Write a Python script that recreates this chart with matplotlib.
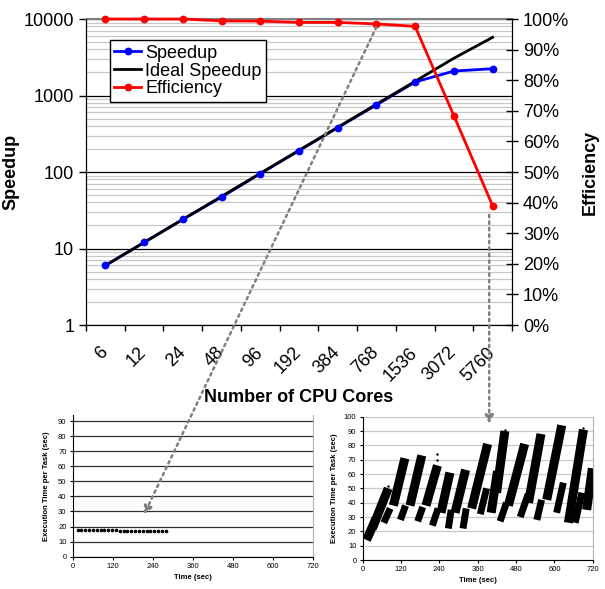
import matplotlib
matplotlib.use("Agg")
import matplotlib.pyplot as plt
import matplotlib.transforms as mtransforms
from matplotlib.lines import Line2D
from matplotlib.patches import ConnectionPatch
from matplotlib.ticker import FixedLocator, NullFormatter

plt.rcParams["font.family"] = ["Liberation Sans", "DejaVu Sans"]

# main chart: speedup / efficiency vs cores
cores = ["6", "12", "24", "48", "96", "192", "384", "768", "1536", "3072", "5760"]
speedup = [6, 12, 24, 47, 95, 190, 380, 755, 1500, 2090, 2240]
ideal = [6, 12, 24, 48, 96, 192, 384, 768, 1536, 3072, 5760]
efficiency = [100, 100, 100, 99.4, 99.3, 98.9, 98.9, 98.4, 97.6, 68.4, 39.0]

# small left chart (few cores): one task per point
small_t = [15, 26, 38, 49, 61, 72, 84, 95, 107, 118, 130, 141,
           153, 164, 176, 187, 199, 210, 222, 233, 245, 256, 268, 280]
small_v = [18.0, 17.9, 17.8, 17.8, 17.6, 17.6, 17.5, 17.5, 17.4, 17.4, 17.4, 17.3,
           17.3, 17.3, 17.3, 17.2, 17.2, 17.2, 17.2, 17.2, 17.1, 17.1, 17.1, 17.1]

# small right chart (5760 cores): dense sawtooth bands, start/end of each band
band_t0 = [12, 30, 96, 148, 198, 245, 289, 341, 402, 419, 456, 519, 576, 644, 701]
band_v0 = [14, 22, 38, 38, 38, 33, 33, 36, 33, 47, 38, 40, 42, 26, 35]
band_t1 = [42, 80, 132, 185, 234, 273, 322, 391, 422, 445, 507, 558, 623, 691, 719]
band_v1 = [29, 50, 71, 73, 66, 61, 63, 81, 62, 90, 81, 88, 94, 91, 64]
low_t0 = [66, 118, 172, 218, 268, 314, 368, 430, 493, 545, 607, 665]
low_v0 = [26, 28, 27, 24, 22, 22, 32, 27, 30, 28, 33, 26]
low_t1 = [86, 134, 188, 236, 277, 324, 388, 450, 518, 560, 628, 686]
low_v1 = [36, 38, 37, 36, 35, 36, 50, 40, 46, 42, 54, 47]
stray_t = [78, 232, 234, 270, 445, 450, 508, 556, 620, 690, 300, 160, 110]
stray_v = [52, 74, 70, 58, 91, 88, 80, 86, 93, 92, 45, 50, 45]

fig = plt.figure(figsize=(6.05, 5.89), dpi=100)
FS = 13

# ---------------- main chart ----------------
ax = fig.add_axes([0.1421, 0.4482, 0.7041, 0.5195])
xs = [i + 0.5 for i in range(len(cores))]
ax.set_yscale("log")
ax.set_ylim(1, 10000)
ax.set_xlim(0, len(cores))
ax.plot(xs, speedup, color="#0000ff", lw=2, zorder=3)
ax.plot(xs, ideal, color="black", lw=2, zorder=4)
ax.plot(xs, speedup, "o", color="#0000ff", ms=4.6, zorder=5)

ax.set_yticks([1, 10, 100, 1000, 10000])
ax.set_yticklabels(["1", "10", "100", "1000", "10000"], fontsize=FS)
ax.yaxis.set_minor_formatter(NullFormatter())
ax.grid(which="major", axis="y", color="black", lw=0.9)
ax.grid(which="minor", axis="y", color="#c8c8c8", lw=0.9)
ax.tick_params(axis="y", which="major", direction="out", length=5, width=1)
ax.tick_params(axis="y", which="minor", length=0)
ax.xaxis.set_major_locator(FixedLocator(range(len(cores) + 1)))
ax.xaxis.set_minor_locator(FixedLocator(xs))
ax.xaxis.set_major_formatter(NullFormatter())
ax.set_xticklabels(cores, minor=True, fontsize=FS, rotation=45,
                   ha="right", va="center", rotation_mode="anchor")
shift = mtransforms.ScaledTranslation(-7 / 72, 0, fig.dpi_scale_trans)
for lab in ax.get_xticklabels(minor=True):
    lab.set_transform(lab.get_transform() + shift)
ax.tick_params(axis="x", which="major", direction="out", length=4, width=1)
ax.tick_params(axis="x", which="minor", length=0, pad=18)
ax.set_xlabel("Number of CPU Cores", fontsize=FS, fontweight="bold")
ax.xaxis.set_label_coords(0.5, -0.208)
ax.set_ylabel("Speedup", fontsize=FS, fontweight="bold")
ax.yaxis.set_label_coords(-0.155, 0.5)
for side in ("left", "bottom", "right"):
    ax.spines[side].set_color("black")
ax.spines["top"].set_color("#808080")
ax.spines["top"].set_linewidth(1.5)

ax2 = ax.twinx()
ax2.set_ylim(0, 100)
ax2.plot(xs, efficiency, "-o", color="#ff0000", lw=2, ms=4.6, clip_on=False, zorder=5)
ax2.set_yticks(range(0, 101, 10))
ax2.set_yticklabels([f"{v}%" for v in range(0, 101, 10)], fontsize=FS)
ax2.tick_params(axis="y", direction="inout", length=9, width=1)
ax2.set_ylabel("Efficiency", fontsize=FS, fontweight="bold", rotation=90, va="center")
ax2.yaxis.set_label_coords(1.183, 0.5)
ax2.spines["top"].set_visible(False)

handles = [
    Line2D([], [], color="#0000ff", lw=2, marker="o", ms=4.6),
    Line2D([], [], color="black", lw=2),
    Line2D([], [], color="#ff0000", lw=2, marker="o", ms=4.6),
]
leg = ax2.legend(handles, ["Speedup", "Ideal Speedup", "Efficiency"],
                 loc="upper left", bbox_to_anchor=(0.056, 0.931), borderaxespad=0,
                 fontsize=FS, frameon=True, fancybox=False, framealpha=1,
                 edgecolor="black", handlelength=1.5, handletextpad=0.2,
                 labelspacing=0.05, borderpad=0.25)
leg.get_frame().set_linewidth(1)

# ---------------- small left chart ----------------
axl = fig.add_axes([0.1202, 0.0548, 0.3967, 0.2406])
axl.set_xlim(0, 720)
axl.set_ylim(0, 94)
axl.plot(small_t, small_v, "o", color="black", ms=2.6, mew=0)
axl.set_xticks(range(0, 721, 120))
axl.set_yticks(range(0, 91, 10))
axl.grid(axis="y", color="#303030", lw=0.9)
axl.tick_params(labelsize=5.5, length=2.5, width=0.8, pad=2)
axl.set_xlabel("Time (sec)", fontsize=5.5, fontweight="bold", labelpad=3)
axl.set_ylabel("Execution Time per Task (sec)", fontsize=5.5, fontweight="bold", labelpad=6)
axl.spines["top"].set_visible(False)
axl.spines["right"].set_color("#b0b0b0")

# ---------------- small right chart ----------------
axr = fig.add_axes([0.5995, 0.0492, 0.3802, 0.2433])
axr.set_xlim(0, 720)
axr.set_ylim(0, 100)
for t0, v0, t1, v1 in zip(band_t0, band_v0, band_t1, band_v1):
    axr.plot([t0, t1], [v0, v1], color="black", lw=6.5, solid_capstyle="butt")
for t0, v0, t1, v1 in zip(low_t0, low_v0, low_t1, low_v1):
    axr.plot([t0, t1], [v0, v1], color="black", lw=5, solid_capstyle="butt")
axr.plot(stray_t, stray_v, ".", color="black", ms=1.5)
axr.set_xticks(range(0, 721, 120))
axr.set_yticks(range(0, 101, 10))
axr.grid(axis="y", color="#c8c8c8", lw=0.9)
axr.set_axisbelow(True)
axr.tick_params(labelsize=5.5, length=2.5, width=0.8, pad=2)
axr.set_xlabel("Time (sec)", fontsize=5.5, fontweight="bold", labelpad=3)
axr.set_ylabel("Execution Time per Task (sec)", fontsize=5.5, fontweight="bold", labelpad=4)
axr.spines["top"].set_visible(False)
axr.spines["right"].set_color("#b0b0b0")

# ---------------- dotted connector arrows ----------------
arrow_kw = dict(arrowstyle="-|>", linestyle=(0, (1, 1.6)), color="#808080",
                lw=1.8, mutation_scale=12, zorder=10)
con1 = ConnectionPatch(xyA=(xs[7], efficiency[7] - 1), coordsA=ax2.transData,
                       xyB=(214, 28), coordsB=axl.transData, **arrow_kw)
fig.add_artist(con1)

tip = axr.transData.transform((396, 95))
top = ax2.transData.transform((0, 36))
to_fig = fig.transFigure.inverted()
con2 = ConnectionPatch(xyA=to_fig.transform((tip[0], top[1])), coordsA=fig.transFigure,
                       xyB=to_fig.transform(tip), coordsB=fig.transFigure, **arrow_kw)
fig.add_artist(con2)

fig.savefig("out.png", dpi=100)
